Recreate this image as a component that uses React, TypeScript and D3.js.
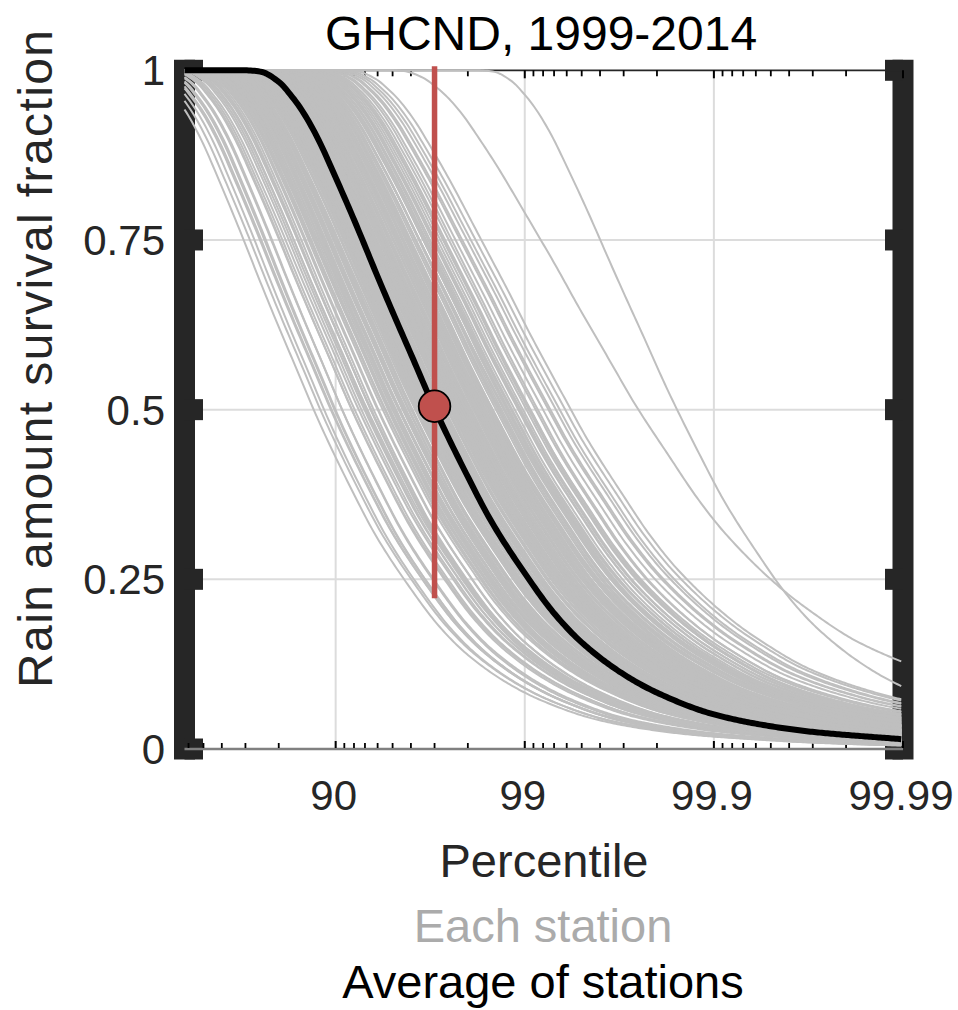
import React from 'react';
import * as d3 from 'd3';

// ---- Data ----
// Average of stations: survival fraction vs percentile
const avgPercentile = [37, 40, 50, 60, 70, 75, 80, 83, 85, 87.5, 90, 92, 94, 95, 96, 97, 98, 98.5, 99, 99.3, 99.5, 99.7, 99.8, 99.9, 99.95, 99.97, 99.99];
const avgSurvival = [1, 1, 1, 1, 1, 0.998, 0.983, 0.961, 0.94, 0.901, 0.842, 0.78, 0.696, 0.644, 0.582, 0.502, 0.401, 0.335, 0.259, 0.2, 0.157, 0.11, 0.083, 0.051, 0.0335, 0.0252, 0.0143];

// Each station: horizontal offset (decades of exceedance) of its curve relative to the average, and tail exponent
const stationShift = [
  -0.61, -0.58, -0.55, -0.52, -0.50, -0.47, -0.46, -0.44, -0.42, -0.41,
  -0.39, -0.38, -0.36, -0.35, -0.34, -0.33, -0.31, -0.30, -0.29, -0.28,
  -0.27, -0.26, -0.25, -0.245, -0.24, -0.235, -0.22, -0.215, -0.205, -0.20,
  -0.195, -0.19, -0.185, -0.18, -0.17, -0.165, -0.16, -0.155, -0.15, -0.14,
  -0.135, -0.13, -0.125, -0.12, -0.115, -0.11, -0.105, -0.10, -0.095, -0.09,
  -0.085, -0.08, -0.075, -0.07, -0.065, -0.06, -0.055, -0.05, -0.045, -0.04,
  -0.035, -0.03, -0.025, -0.02, -0.015, -0.01, -0.005, 0.0, 0.0, 0.005,
  0.01, 0.015, 0.02, 0.025, 0.03, 0.035, 0.04, 0.045, 0.045, 0.05,
  0.055, 0.06, 0.06, 0.065, 0.07, 0.075, 0.08, 0.085, 0.09, 0.095,
  0.095, 0.10, 0.105, 0.11, 0.115, 0.12, 0.125, 0.13, 0.135, 0.14,
  0.14, 0.15, 0.155, 0.16, 0.165, 0.17, 0.18, 0.185, 0.19, 0.20,
  0.205, 0.21, 0.22, 0.225, 0.23, 0.245, 0.255, 0.26, 0.27, 0.285,
  0.30, 0.32, 0.34, 0.36, 0.38, 0.41, 0.44, 0.48, 0.51,
  -0.53, -0.49, -0.43, -0.37, -0.32, -0.295, -0.275, -0.255, -0.23, -0.225,
  -0.21, -0.2, -0.19, -0.175, -0.165, -0.15, -0.145, -0.135, -0.12, -0.11,
  -0.1, -0.09, -0.08, -0.07, -0.06, -0.05, -0.04, -0.03, -0.02, -0.01,
  0.0, 0.01, 0.02, 0.03, 0.04, 0.05, 0.06, 0.07, 0.08, 0.09,
  0.1, 0.11, 0.12, 0.13, 0.145, 0.16, 0.175, 0.19, 0.21, 0.235,
  0.25, 0.275, 0.29, 0.31, 0.33, 0.35, 0.39, 0.42, 0.46, -0.005,
  0.035, 0.065, 0.115, -0.035, -0.065, -0.155, 0.155, 0.195, 0.215, -0.255,
];
const stationTail = [
  1.06, 1.05, 1.07, 1.05, 1.06, 1.04, 1.06, 1.0, 1.01, 0.99,
  1.0, 0.99, 1.01, 0.98, 1.0, 1.02, 0.99, 1.0, 0.96, 0.97,
  0.95, 0.97, 0.96, 0.94, 0.96, 0.97, 0.95, 0.96, 0.97, 0.95,
  0.96, 0.94, 0.97, 0.96, 0.95, 0.96, 0.94, 0.97, 0.96, 0.92,
  0.93, 0.91, 0.92, 0.94, 0.92, 0.9, 0.93, 0.92, 0.91, 0.93,
  0.92, 0.9, 0.93, 0.92, 0.91, 0.92, 0.94, 0.92, 0.9, 0.92,
  0.93, 0.91, 0.92, 0.9, 0.92, 0.93, 0.91, 0.92, 0.9, 0.88,
  0.87, 0.89, 0.88, 0.86, 0.88, 0.89, 0.87, 0.88, 0.86, 0.88,
  0.89, 0.87, 0.88, 0.86, 0.88, 0.87, 0.89, 0.88, 0.86, 0.88,
  0.87, 0.88, 0.84, 0.85, 0.83, 0.84, 0.86, 0.84, 0.83, 0.85,
  0.84, 0.83, 0.85, 0.84, 0.82, 0.84, 0.83, 0.85, 0.84, 0.82,
  0.8, 0.81, 0.79, 0.8, 0.82, 0.8, 0.79, 0.81, 0.8, 0.78,
  0.79, 0.77, 0.78, 0.76, 0.77, 0.74, 0.73, 0.72, 0.72,
  1.04, 1.07, 1.02, 0.98, 1.01, 0.97, 0.95, 0.97, 0.94, 0.97,
  0.96, 0.93, 0.95, 0.97, 0.93, 0.95, 0.91, 0.94, 0.9, 0.94,
  0.91, 0.9, 0.94, 0.9, 0.93, 0.91, 0.89, 0.93, 0.9, 0.91,
  0.89, 0.9, 0.86, 0.9, 0.87, 0.86, 0.9, 0.86, 0.87, 0.85,
  0.86, 0.86, 0.82, 0.86, 0.82, 0.85, 0.81, 0.83, 0.82, 0.78,
  0.81, 0.79, 0.77, 0.78, 0.76, 0.78, 0.75, 0.74, 0.73, 0.94,
  0.85, 0.89, 0.83, 0.9, 0.95, 0.92, 0.8, 0.84, 0.78, 0.99,
];
// two stations far to the right of the others
const outlierShift = [1.23, 0.76];
const outlierTail = [0.92, 0.62];

const yTicks = [0, 0.25, 0.5, 0.75, 1];
const yTickLabels = ['0', '0.25', '0.5', '0.75', '1'];
const xMajorTicks = [90, 99, 99.9, 99.99];
const xTickLabels = ['90', '99', '99.9', '99.99'];
const xMinorTicks = [40, 50, 60, 70, 80, 91, 92, 93, 94, 95, 96, 97, 98, 99.1, 99.2, 99.3, 99.4, 99.5, 99.6, 99.7, 99.8, 99.91, 99.92, 99.93, 99.94, 99.95, 99.96, 99.97, 99.98];
const xGrid = [90, 99, 99.9];
const yGrid = [0.25, 0.5, 0.75];

const markerPercentile = 97;
const markerValue = 0.505;
const markerLineFrom = 0.222;
const markerLineTo = 1;

const titleText = 'GHCND, 1999-2014';
const xLabel = 'Percentile';
const yLabel = 'Rain amount survival fraction';
const legendItems = ['Each station', 'Average of stations'];

// ---- Scales ----
const W = 958;
const H = 1010;
const x = d3.scaleLog().domain([0.63, 0.0001]).range([184.5, 903]);
const xp = (p: number) => x(1 - p / 100);
const y = d3.scaleLinear().domain([0, 1]).range([749, 70.3]);

// monotone cubic interpolation of the average curve in u = -log10(exceedance)
const us = avgPercentile.map((p) => -Math.log10(1 - p / 100));
function makeInterp(xs: number[], vs: number[]) {
  const n = xs.length;
  const h: number[] = [];
  const del: number[] = [];
  for (let i = 0; i < n - 1; i++) {
    h[i] = xs[i + 1] - xs[i];
    del[i] = (vs[i + 1] - vs[i]) / h[i];
  }
  const m: number[] = new Array(n);
  m[0] = del[0];
  m[n - 1] = del[n - 2];
  for (let i = 1; i < n - 1; i++) {
    if (del[i - 1] * del[i] <= 0) m[i] = 0;
    else {
      const w1 = 2 * h[i] + h[i - 1];
      const w2 = h[i] + 2 * h[i - 1];
      m[i] = (w1 + w2) / (w1 / del[i - 1] + w2 / del[i]);
    }
  }
  const decay = Math.log10(vs[n - 2] / vs[n - 1]) / (xs[n - 1] - xs[n - 2]);
  return (u: number) => {
    if (u <= xs[0]) return vs[0];
    if (u >= xs[n - 1]) return vs[n - 1] * Math.pow(10, -(u - xs[n - 1]) * decay);
    let i = 0;
    while (i < n - 2 && u > xs[i + 1]) i++;
    const t = (u - xs[i]) / h[i];
    const t2 = t * t;
    const t3 = t2 * t;
    return (
      (2 * t3 - 3 * t2 + 1) * vs[i] +
      (t3 - 2 * t2 + t) * h[i] * m[i] +
      (-2 * t3 + 3 * t2) * vs[i + 1] +
      (t3 - t2) * h[i] * m[i + 1]
    );
  };
}
const avgFn = makeInterp(us, avgSurvival);
const uMin = us[0];
const uMax = 4;
const uSamples = d3.range(uMin, uMax + 1e-9, 0.01);

const lineGen = d3.line<[number, number]>().x((d) => d[0]).y((d) => d[1]);
const allShift = stationShift.concat(outlierShift);
const allTail = stationTail.concat(outlierTail);
const stationPaths = allShift.map((d, i) => {
  const k = allTail[i] ?? 0.9;
  const pts: [number, number][] = uSamples.map((u) => {
    const v = Math.min(1, Math.pow(Math.max(avgFn(u - d), 0), k));
    return [x(Math.pow(10, -u)), y(v)];
  });
  return lineGen(pts) || '';
});
const avgPts: [number, number][] = uSamples.map((u) => [x(Math.pow(10, -u)), y(avgFn(u))]);
const avgPath = lineGen(avgPts) || '';

const FONT = '"Liberation Sans", Arial, Helvetica, sans-serif';
const DARK = '#262626';

export default function App() {
  const [x0, x1] = x.range();
  const [y0, y1] = [y(0), y(1)];
  return (
    <svg width={W} height={H} style={{ position: 'absolute', left: 0, top: 0, background: '#fff' }} fontFamily={FONT}>
      <rect x={0} y={0} width={W} height={H} fill="#fff" />
      {/* grid */}
      {xGrid.map((p) => (
        <line key={'gx' + p} x1={xp(p)} x2={xp(p)} y1={y1} y2={y0} stroke="#dcdcdc" strokeWidth={2} />
      ))}
      {yGrid.map((v) => (
        <line key={'gy' + v} x1={x0} x2={x1} y1={y(v)} y2={y(v)} stroke="#dcdcdc" strokeWidth={2} />
      ))}
      {/* thick side axes */}
      <line x1={x0} x2={x0} y1={y1} y2={y0} stroke={DARK} strokeWidth={21} strokeLinecap="square" />
      <line x1={x1} x2={x1} y1={y1} y2={y0} stroke={DARK} strokeWidth={21} strokeLinecap="square" />
      {yTicks.map((v) => (
        <g key={'yt' + v}>
          <line x1={x0} x2={x0 + 18.5} y1={y(v)} y2={y(v)} stroke={DARK} strokeWidth={21} />
          <line x1={x1} x2={x1 - 18} y1={y(v)} y2={y(v)} stroke={DARK} strokeWidth={21} />
        </g>
      ))}
      {/* top axis */}
      <line x1={x0} x2={x1} y1={y1} y2={y1} stroke={DARK} strokeWidth={1.8} />
      {xMinorTicks.map((p) => (
        <line key={'tmt' + p} x1={xp(p)} x2={xp(p)} y1={y1} y2={y1 + 6} stroke="#000" strokeWidth={1.8} />
      ))}
      {xMajorTicks.map((p) => (
        <line key={'tMt' + p} x1={xp(p)} x2={xp(p)} y1={y1} y2={y1 + 8} stroke="#000" strokeWidth={2} />
      ))}
      {/* bottom axis */}
      <line x1={x0} x2={x1} y1={y0} y2={y0} stroke="#808080" strokeWidth={2.6} />
      {xMinorTicks.map((p) => (
        <line key={'bmt' + p} x1={xp(p)} x2={xp(p)} y1={y0 - 1} y2={y0 - 6} stroke="#000" strokeWidth={1.8} />
      ))}
      {xMajorTicks.map((p) => (
        <line key={'bMt' + p} x1={xp(p)} x2={xp(p)} y1={y0 - 1} y2={y0 - 8} stroke="#000" strokeWidth={2} />
      ))}
      {/* station curves */}
      <g fill="none" stroke="#bfbfbf" strokeWidth={2}>
        {stationPaths.map((d, i) => (
          <path key={'s' + i} d={d} />
        ))}
      </g>
      {/* average */}
      <path d={avgPath} fill="none" stroke="#000" strokeWidth={6} />
      {/* marker */}
      <line
        x1={xp(markerPercentile)}
        x2={xp(markerPercentile)}
        y1={y(markerLineTo) - 4}
        y2={y(markerLineFrom)}
        stroke="#c0504d"
        strokeWidth={5.5}
      />
      <circle cx={xp(markerPercentile)} cy={y(markerValue)} r={15.8} fill="#c0504d" stroke="#000" strokeWidth={1.8} />
      {/* tick labels */}
      {yTicks.map((v, i) => (
        <text key={'yl' + v} x={165} y={y(v) + 15} textAnchor="end" fontSize={42} fill={DARK}>
          {yTickLabels[i]}
        </text>
      ))}
      {xMajorTicks.map((p, i) => (
        <text key={'xl' + p} x={xp(p) - 2} y={810} textAnchor="middle" fontSize={42} fill={DARK}>
          {xTickLabels[i]}
        </text>
      ))}
      {/* titles */}
      <text x={541} y={50} textAnchor="middle" fontSize={48} fill="#000">
        {titleText}
      </text>
      <text x={544} y={877} textAnchor="middle" fontSize={47} fill={DARK}>
        {xLabel}
      </text>
      <text x={543} y={942} textAnchor="middle" fontSize={47} fill="#ababab">
        {legendItems[0]}
      </text>
      <text x={543} y={998} textAnchor="middle" fontSize={47} fill="#000">
        {legendItems[1]}
      </text>
      <text
        transform="translate(52,359) rotate(-90)"
        textAnchor="middle"
        fontSize={48}
        textLength={658}
        lengthAdjust="spacing"
        fill={DARK}
      >
        {yLabel}
      </text>
    </svg>
  );
}
